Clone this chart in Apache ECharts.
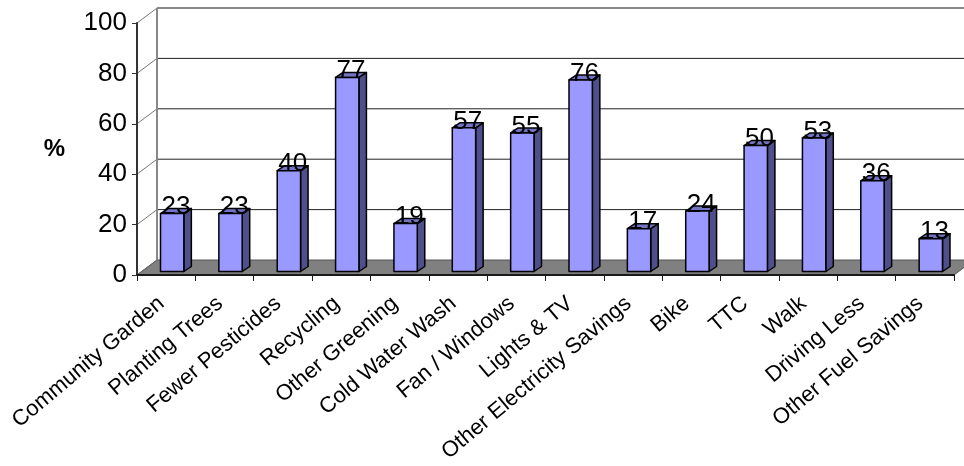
<!DOCTYPE html>
<html>
<head>
<meta charset="utf-8">
<script src="https://cdn.jsdelivr.net/npm/echarts@6/dist/echarts.min.js"></script>
<style>
  html, body { margin: 0; padding: 0; background: #fff; }
  #chart { width: 964px; height: 466px; }
</style>
</head>
<body>
<div id="chart"></div>
<script>
// Share of respondents taking each action (%)
const categories = [
  'Community Garden', 'Planting Trees', 'Fewer Pesticides', 'Recycling',
  'Other Greening', 'Cold Water Wash', 'Fan / Windows', 'Lights & TV',
  'Other Electricity Savings', 'Bike', 'TTC', 'Walk', 'Driving Less',
  'Other Fuel Savings'
];
const percentValues = [23, 23, 40, 77, 19, 57, 55, 76, 17, 24, 50, 53, 36, 13];
const yTicks = [0, 20, 40, 60, 80, 100];

// Pseudo-3D projection: offset of the back wall relative to the front plane
const DEPTH_X = 20, DEPTH_Y = -15;
// Bar front face offset and bar depth
const BAR_FX = 6, BAR_FY = -3.5;
const BAR_DX = 7.5, BAR_DY = -5;
const BAR_WIDTH_RATIO = 0.4;

const FONT = '"Liberation Sans", Arial, sans-serif';

const chart = echarts.init(document.getElementById('chart'), null, { renderer: 'canvas' });

function renderWalls(params, api) {
  const cs = params.coordSys;
  const x0 = cs.x, x1 = cs.x + cs.width;
  const y0 = api.coord([0, 0])[1];
  const yTop = api.coord([0, 100])[1];
  const children = [];
  // floor
  children.push({
    type: 'polygon',
    shape: { points: [[x0, y0], [x1, y0], [x1 + DEPTH_X, y0 + DEPTH_Y], [x0 + DEPTH_X, y0 + DEPTH_Y]] },
    style: { fill: '#808080', stroke: '#555', lineWidth: 1 }
  });
  // back wall gridlines and side wall diagonals
  yTicks.forEach(function (t) {
    const y = api.coord([0, t])[1];
    if (t > 0) {
      children.push({
        type: 'line',
        shape: { x1: x0 + DEPTH_X, y1: y + DEPTH_Y, x2: x1 + DEPTH_X, y2: y + DEPTH_Y },
        style: { stroke: t === 100 ? '#888' : '#222', lineWidth: t === 100 ? 2 : 1 }
      });
    }
    children.push({
      type: 'line',
      shape: { x1: x0, y1: y, x2: x0 + DEPTH_X, y2: y + DEPTH_Y },
      style: { stroke: t === 0 ? '#666' : '#777', lineWidth: 1 }
    });
  });
  // back wall left edge
  children.push({
    type: 'line',
    shape: { x1: x0 + DEPTH_X, y1: y0 + DEPTH_Y, x2: x0 + DEPTH_X, y2: yTop + DEPTH_Y },
    style: { stroke: '#888', lineWidth: 2 }
  });
  return { type: 'group', children: children };
}

function renderBar(params, api) {
  const idx = api.value(0);
  const val = api.value(1);
  const base = api.coord([idx, 0]);
  const top = api.coord([idx, val]);
  const bw = api.size([1, 0])[0] * BAR_WIDTH_RATIO;
  const L = base[0] - bw / 2 + BAR_FX;
  const R = base[0] + bw / 2 + BAR_FX;
  const B = base[1] + BAR_FY;
  const T = top[1] + BAR_FY;
  const stroke = { stroke: '#000', lineWidth: 1.5, lineJoin: 'round' };
  return {
    type: 'group',
    children: [
      {
        type: 'polygon',
        shape: { points: [[R, T], [R + BAR_DX, T + BAR_DY], [R + BAR_DX, B + BAR_DY], [R, B]] },
        style: Object.assign({ fill: '#4f4f8c' }, stroke)
      },
      {
        type: 'polygon',
        shape: { points: [[L, T], [R, T], [R + BAR_DX, T + BAR_DY], [L + BAR_DX, T + BAR_DY]] },
        style: Object.assign({ fill: '#7474c4' }, stroke)
      },
      {
        type: 'rect',
        shape: { x: L, y: T, width: R - L, height: B - T },
        style: Object.assign({ fill: '#9999ff' }, stroke)
      },
      {
        type: 'text',
        style: {
          text: String(val),
          x: (L + R) / 2 + BAR_DX / 2,
          y: T + BAR_DY / 2 - 4,
          align: 'center',
          verticalAlign: 'middle',
          fill: '#000',
          font: '26px ' + FONT
        }
      }
    ]
  };
}

chart.setOption({
  animation: false,
  backgroundColor: '#fff',
  grid: { left: 137, right: 10, top: 23, bottom: 191, containLabel: false },
  xAxis: {
    type: 'category',
    data: categories,
    boundaryGap: true,
    z: 10,
    axisLine: { show: true, lineStyle: { color: '#1a1a1a', width: 2 } },
    axisTick: { show: true, length: 6, inside: false, lineStyle: { color: '#1a1a1a', width: 1 } },
    axisLabel: {
      rotate: 40,
      interval: 0,
      margin: 22,
      padding: [0, 6, 0, 0],
      color: '#000',
      fontSize: 22,
      fontFamily: FONT
    },
    splitLine: { show: false }
  },
  yAxis: {
    type: 'value',
    min: 0,
    max: 100,
    interval: 20,
    z: 10,
    name: '%',
    nameLocation: 'middle',
    nameRotate: 0,
    nameGap: 72,
    nameTextStyle: {
      color: '#000',
      fontSize: 24,
      fontWeight: 'bold',
      fontFamily: FONT
    },
    axisLine: { show: true, lineStyle: { color: '#333', width: 2 } },
    axisTick: { show: true, length: 5, lineStyle: { color: '#333', width: 1 } },
    axisLabel: {
      margin: 10,
      color: '#000',
      fontSize: 26,
      fontFamily: FONT,
      formatter: function (v) { return yTicks.indexOf(v) >= 0 ? String(v) : ''; }
    },
    splitLine: { show: false }
  },
  series: [
    {
      type: 'custom',
      z: 1,
      silent: true,
      renderItem: renderWalls,
      data: [[0, 0]],
      encode: { x: 0, y: 1 }
    },
    {
      type: 'custom',
      z: 2,
      renderItem: renderBar,
      data: percentValues.map(function (v, i) { return [i, v]; }),
      encode: { x: 0, y: 1 }
    }
  ]
});
</script>
</body>
</html>
